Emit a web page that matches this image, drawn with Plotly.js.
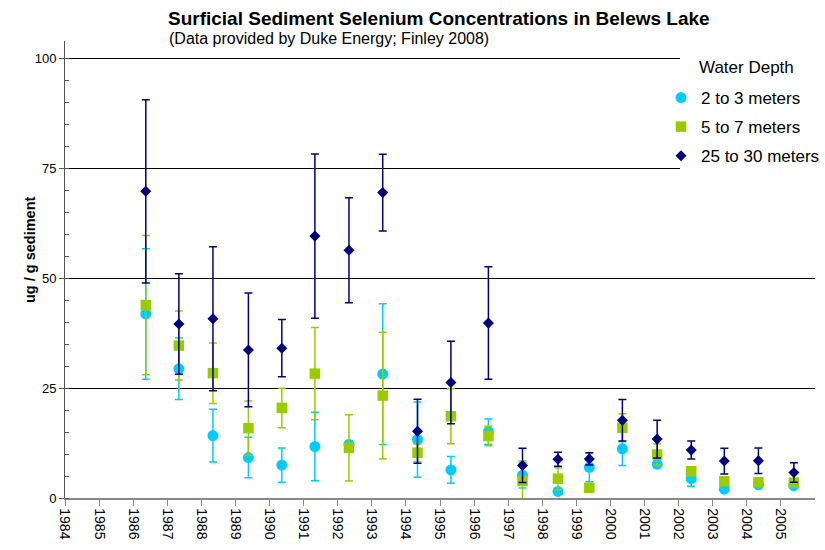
<!DOCTYPE html>
<html>
<head>
<meta charset="utf-8">
<script src="https://cdn.plot.ly/plotly-3.0.1.min.js"></script>
<style>html,body{margin:0;padding:0;background:#fff;}#chart{width:825px;height:550px;}</style>
</head>
<body>
<div id="chart"></div>
<script>
// Sampling dates (fractional years)
const sampleYears = [1986.37, 1987.34, 1988.34, 1989.38, 1990.36, 1991.33, 1992.33, 1993.32, 1994.34, 1995.32,
                     1996.42, 1997.42, 1998.46, 1999.38, 2000.35, 2001.37, 2002.37, 2003.34, 2004.34, 2005.38];

// 2 to 3 meters
const shallowMean = [41.9, 29.4, 14.2, 9.2, 7.5, 11.7, 12.2, 28.2, 13.3, 6.4, 15.1, 5.2, 1.5, 7.0, 11.2, 7.7, 4.4, 2.0, 3.0, 2.8];
const shallowErr  = [14.85, 7.0, 6.0, 4.6, 3.9, 7.8, 0.8, 16.0, 8.55, 3.05, 2.9, 2.9, 0.5, 3.3, 3.8, 0.8, 1.7, 0.5, 0.4, 0.5];

// 5 to 7 meters
const midMean = [43.9, 34.7, 28.4, 15.9, 20.5, 28.3, 11.4, 23.3, 10.3, 18.6, 14.1, 3.9, 4.4, 2.3, 16.0, 9.9, 6.1, 3.8, 3.6, 3.5];
const midErr  = [15.85, 7.85, 6.9, 6.2, 4.5, 10.5, 7.55, 14.4, 2.0, 6.25, 2.2, 4.5, 2.5, 0.5, 3.2, 2.4, 1.0, 0.5, 0.4, 0.5];

// 25 to 30 meters
const deepMean = [69.8, 39.6, 40.8, 33.7, 34.1, 59.6, 56.4, 69.5, 15.2, 26.3, 39.8, 7.4, 8.8, 8.9, 17.7, 13.4, 10.9, 8.4, 8.5, 5.8];
const deepErr  = [20.85, 11.45, 16.4, 12.95, 6.5, 18.7, 11.95, 8.75, 7.3, 9.4, 12.8, 3.9, 1.6, 1.4, 4.7, 4.3, 2.05, 2.95, 2.9, 2.2];

const seriesNames = ['2 to 3 meters', '5 to 7 meters', '25 to 30 meters'];
const legendTitle = 'Water Depth';
const yTitle = 'ug / g sediment';
const yearTicks = [];
for (let y = 1984; y <= 2005; y++) yearTicks.push(y);
const yTicks = [0, 25, 50, 75, 100];

const FONT = 'Liberation Sans, Arial, sans-serif';
const CYAN = '#00CCFF', GREEN = '#99CC00', NAVY = '#000080';

// pixel helpers for layout placement (plot area 65..815 x, 41..498 y)
const px = v => (v - 65) / 750;
const py = v => (498 - v) / 457;

function mk(name, y, err, color, symbol, size, group) {
  return {
    type: 'scatter', mode: 'markers', name: name, x: sampleYears, y: y,
    legendgroup: group,
    marker: {color: color, symbol: symbol, size: size, line: {width: 0}},
    error_y: {type: 'data', array: err, visible: true, color: color, thickness: 1.5, width: 4},
    cliponaxis: false
  };
}

const data = [
  mk(seriesNames[0], shallowMean, shallowErr, CYAN, 'circle', 11, 'a'),
  mk(seriesNames[1], midMean, midErr, GREEN, 'square', 10.5, 'b'),
  mk(seriesNames[2], deepMean, deepErr, NAVY, 'diamond', 8.5, 'c')
];

const layout = {
  width: 825, height: 550,
  margin: {l: 65, r: 10, t: 41, b: 52, autoexpand: false},
  paper_bgcolor: '#fff', plot_bgcolor: '#fff',
  font: {family: FONT, color: '#000', size: 13},
  title: {
    text: '<b>Surficial Sediment Selenium Concentrations in Belews Lake</b>',
    font: {family: FONT, size: 19, color: '#000'},
    xref: 'container', yref: 'container',
    x: 168/825, xanchor: 'left', y: 1 - 18/550, yanchor: 'middle'
  },
  shapes: [{
    type: 'rect', xref: 'paper', yref: 'paper', layer: 'above',
    x0: px(680), x1: px(826), y0: py(170), y1: py(44),
    fillcolor: '#fff', line: {width: 0}
  }],
  annotations: [{
    text: '(Data provided by Duke Energy; Finley 2008)',
    xref: 'paper', yref: 'paper', x: px(167), y: py(38),
    xanchor: 'left', yanchor: 'middle', showarrow: false,
    font: {family: FONT, size: 16, color: '#000'}
  }, {
    text: '<b>' + yTitle + '</b>',
    xref: 'paper', yref: 'paper', x: px(30), y: py(250), textangle: -90,
    xanchor: 'center', yanchor: 'middle', showarrow: false,
    font: {family: FONT, size: 14.5, color: '#000'}
  }, {
    text: legendTitle,
    xref: 'paper', yref: 'paper', x: px(697), y: py(67),
    xanchor: 'left', yanchor: 'middle', showarrow: false,
    font: {family: FONT, size: 17, color: '#000'}
  }],
  xaxis: {
    range: [1984, 2006], tickvals: yearTicks, ticktext: yearTicks.map(String),
    tickangle: 90, ticks: 'outside', ticklen: 6, tickcolor: '#888', tickwidth: 1,
    showline: true, linecolor: '#888', linewidth: 1.5, showgrid: false, zeroline: false,
    tickfont: {family: FONT, size: 14, color: '#000'}, automargin: false
  },
  yaxis: {
    range: [0, 104], tickvals: yTicks, ticks: 'outside', ticklen: 5, tickcolor: '#555',
    showline: true, linecolor: '#555', linewidth: 1, zeroline: false,
    showgrid: true, gridcolor: '#000', gridwidth: 1,
    minor: {dtick: 5, ticks: 'inside', ticklen: 4, tickcolor: '#555', showgrid: false},
    tickfont: {family: FONT, size: 13, color: '#000'}, automargin: false
  },
  legend: {
    x: px(661), xanchor: 'left', y: py(80), yanchor: 'top',
    bgcolor: 'rgba(255,255,255,0)', borderwidth: 0,
    font: {family: FONT, size: 17, color: '#000'},
    traceorder: 'grouped', tracegroupgap: 4, itemwidth: 30
  },
  showlegend: true
};

Plotly.newPlot('chart', data, layout, {displayModeBar: false, staticPlot: true});
</script>
</body>
</html>
